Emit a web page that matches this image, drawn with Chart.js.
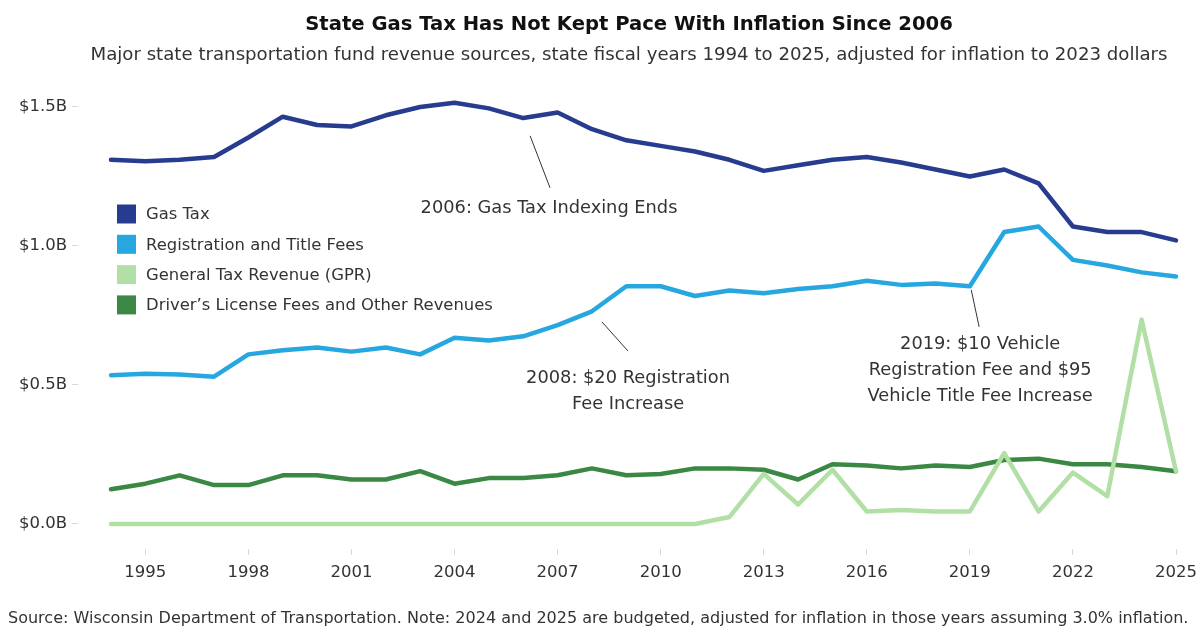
<!DOCTYPE html>
<html>
<head>
<meta charset="utf-8">
<title>State Gas Tax Has Not Kept Pace With Inflation Since 2006</title>
<script src="https://cdn.jsdelivr.net/npm/chart.js@4.4.1/dist/chart.umd.min.js"></script>
<style>
  body { margin: 0; background: #fff; }
  #wrap { width: 1199px; height: 631px; position: relative; }
</style>
</head>
<body>
<div id="wrap"><canvas id="myChart" width="1199" height="631"></canvas></div>
<script>
// state fiscal years
var years = [1994, 1995, 1996, 1997, 1998, 1999, 2000, 2001, 2002, 2003, 2004, 2005, 2006, 2007, 2008, 2009,
  2010, 2011, 2012, 2013, 2014, 2015, 2016, 2017, 2018, 2019, 2020, 2021, 2022, 2023, 2024, 2025];

// billions of 2023 dollars
var gasTax = [1.31, 1.305, 1.31, 1.32, 1.39, 1.465, 1.435, 1.43, 1.47, 1.50, 1.515, 1.495, 1.46, 1.48, 1.42, 1.38,
  1.36, 1.34, 1.31, 1.27, 1.29, 1.31, 1.32, 1.30, 1.275, 1.25, 1.275, 1.225, 1.07, 1.05, 1.05, 1.02];
var regFees = [0.535, 0.54, 0.538, 0.53, 0.61, 0.625, 0.635, 0.62, 0.635, 0.61, 0.67, 0.66, 0.675, 0.715, 0.765, 0.855,
  0.855, 0.82, 0.84, 0.83, 0.845, 0.855, 0.875, 0.86, 0.865, 0.855, 1.05, 1.07, 0.95, 0.93, 0.905, 0.89];
var gpr = [0, 0, 0, 0, 0, 0, 0, 0, 0, 0, 0, 0, 0, 0, 0, 0,
  0, 0, 0.025, 0.18, 0.07, 0.195, 0.045, 0.05, 0.045, 0.045, 0.255, 0.045, 0.185, 0.10, 0.735, 0.19];
var otherRev = [0.125, 0.145, 0.175, 0.14, 0.14, 0.175, 0.175, 0.16, 0.16, 0.19, 0.145, 0.165, 0.165, 0.175, 0.20, 0.175,
  0.18, 0.20, 0.20, 0.195, 0.16, 0.215, 0.21, 0.20, 0.21, 0.205, 0.23, 0.235, 0.215, 0.215, 0.205, 0.19];

var seriesNames = ["Gas Tax", "Registration and Title Fees", "General Tax Revenue (GPR)", "Driver\u2019s License Fees and Other Revenues"];
var seriesColors = ["#283c8f", "#27a7e0", "#b2dfa5", "#3a8843"];

var xTickYears = [1995, 1998, 2001, 2004, 2007, 2010, 2013, 2016, 2019, 2022, 2025];
var yTickValues = [0, 0.5, 1.0, 1.5];

var title = "State Gas Tax Has Not Kept Pace With Inflation Since 2006";
var subtitle = "Major state transportation fund revenue sources, state fiscal years 1994 to 2025, adjusted for inflation to 2023 dollars";
var source = "Source: Wisconsin Department of Transportation. Note: 2024 and 2025 are budgeted, adjusted for inflation in those years assuming 3.0% inflation.";

// annotations: text lines at (x, y) in data units, leader line from (x1,y1) to (x2,y2)
var notes = [
  { lines: ["2006: Gas Tax Indexing Ends"], x: 2006.75, y: 1.137, line: [2006.2, 1.396, 2006.78, 1.209] },
  { lines: ["2008: $20 Registration", "Fee Increase"], x: 2009.05, y: 0.525, line: [2008.29, 0.727, 2009.05, 0.622] },
  { lines: ["2019: $10 Vehicle", "Registration Fee and $95", "Vehicle Title Fee Increase"], x: 2019.3, y: 0.647, line: [2019.04, 0.842, 2019.27, 0.709] }
];

var FONT = '"DejaVu Sans", "Noto Sans", sans-serif';
var textColor = "#333333";

function makePoints(vals) {
  return vals.map(function (v, i) { return { x: years[i], y: v }; });
}

// font size that makes text come out at the wanted width
function fitSize(ctx, text, weight, width) {
  ctx.font = weight + " 100px " + FONT;
  return 100 * width / ctx.measureText(text).width;
}

var seriesValues = [gasTax, regFees, gpr, otherRev];
var datasets = seriesValues.map(function (vals, i) {
  return {
    label: seriesNames[i],
    data: makePoints(vals),
    borderColor: seriesColors[i],
    backgroundColor: seriesColors[i],
    borderWidth: 4.5,
    pointRadius: 0,
    tension: 0,
    borderCapStyle: "round",
    borderJoinStyle: "round",
    clip: false
  };
});

var textPlugin = {
  id: "texts",
  afterDraw: function (chart) {
    var ctx = chart.ctx;
    var xs = chart.scales.x, ys = chart.scales.y;
    ctx.save();
    ctx.textBaseline = "middle";

    // title + subtitle
    ctx.fillStyle = "#111111";
    ctx.textAlign = "center";
    var s = fitSize(ctx, title, "bold", 648);
    ctx.font = "bold " + s + "px " + FONT;
    ctx.fillText(title, 629, 25);
    ctx.fillStyle = textColor;
    s = fitSize(ctx, subtitle, "normal", 1078);
    ctx.font = s + "px " + FONT;
    ctx.fillText(subtitle, 629, 55);

    // source
    ctx.textAlign = "left";
    s = fitSize(ctx, source, "normal", 1182);
    ctx.font = s + "px " + FONT;
    ctx.fillText(source, 8, 619);

    // legend
    s = fitSize(ctx, seriesNames[3], "normal", 347);
    ctx.font = s + "px " + FONT;
    for (var i = 0; i < seriesNames.length; i++) {
      var cy = 214 + i * 30.3;
      ctx.fillStyle = seriesColors[i];
      ctx.fillRect(117, cy - 9.5, 19, 19);
      ctx.fillStyle = textColor;
      ctx.fillText(seriesNames[i], 146, cy + 1);
    }

    // annotations
    s = fitSize(ctx, notes[0].lines[0], "normal", 257);
    ctx.font = s + "px " + FONT;
    ctx.textAlign = "center";
    notes.forEach(function (n) {
      ctx.strokeStyle = "#333333";
      ctx.lineWidth = 1;
      ctx.beginPath();
      ctx.moveTo(xs.getPixelForValue(n.line[0]), ys.getPixelForValue(n.line[1]));
      ctx.lineTo(xs.getPixelForValue(n.line[2]), ys.getPixelForValue(n.line[3]));
      ctx.stroke();
      var px = xs.getPixelForValue(n.x);
      var py = ys.getPixelForValue(n.y);
      ctx.fillStyle = textColor;
      n.lines.forEach(function (t, k) {
        ctx.fillText(t, px, py + k * 26);
      });
    });
    ctx.restore();
  }
};

var ctx = document.getElementById("myChart").getContext("2d");
var myChart = new Chart(ctx, {
  type: "line",
  data: { datasets: datasets },
  plugins: [textPlugin],
  options: {
    responsive: false,
    animation: false,
    layout: { padding: { left: 0, right: 23, top: 90, bottom: 40 } },
    plugins: {
      legend: { display: false },
      tooltip: { enabled: false },
      title: { display: false }
    },
    scales: {
      x: {
        type: "linear",
        min: 1993.04,
        max: 2025,
        afterBuildTicks: function (scale) {
          scale.ticks = xTickYears.map(function (v) { return { value: v }; });
        },
        afterFit: function (scale) {
          scale.height = 42;
          scale.paddingLeft = 0;
          scale.paddingRight = 0;
        },
        ticks: {
          autoSkip: false,
          maxRotation: 0,
          padding: 8,
          color: textColor,
          font: { family: FONT, size: 16.5 },
          callback: function (v) { return String(v); }
        },
        grid: { display: true, drawOnChartArea: false, drawTicks: true, tickLength: 6, color: "#d9d9d9" },
        border: { display: false }
      },
      y: {
        min: -0.09,
        max: 1.561,
        afterBuildTicks: function (scale) {
          scale.ticks = yTickValues.map(function (v) { return { value: v }; });
        },
        afterFit: function (scale) {
          scale.width = 78;
          scale.paddingTop = 0;
          scale.paddingBottom = 0;
        },
        ticks: {
          padding: 5,
          color: textColor,
          font: { family: FONT, size: 16.5 },
          callback: function (v) { return "$" + v.toFixed(1) + "B"; }
        },
        grid: { display: true, drawOnChartArea: false, drawTicks: true, tickLength: 6, color: "#d9d9d9" },
        border: { display: false }
      }
    }
  }
});
</script>
</body>
</html>
